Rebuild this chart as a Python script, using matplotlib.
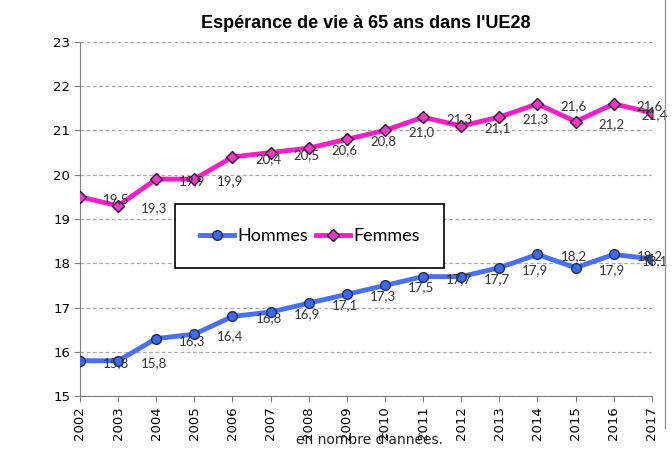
import matplotlib
matplotlib.use("Agg")
import matplotlib.pyplot as plt
from matplotlib.lines import Line2D

# données
annees = list(range(2002, 2018))
hommes = [15.8, 15.8, 16.3, 16.4, 16.8, 16.9, 17.1, 17.3, 17.5, 17.7, 17.7, 17.9, 18.2, 17.9, 18.2, 18.1]
femmes = [19.5, 19.3, 19.9, 19.9, 20.4, 20.5, 20.6, 20.8, 21.0, 21.3, 21.1, 21.3, 21.6, 21.2, 21.6, 21.4]
y_ticks = list(range(15, 24))

titre = "Espérance de vie à 65 ans dans l'UE28"
note = "en nombre d'années."

bleu = "#4A6FEF"
rose = "#F020C8"

fig = plt.figure(figsize=(6.72, 4.65), dpi=100)
ax = fig.add_axes([0.119, 0.148, 0.851, 0.762])

ax.plot(annees, hommes, color=bleu, lw=3.5, marker="o", ms=7,
        mfc="#3D6BE8", mec="#1F2F5A", mew=1.0, zorder=3)
ax.plot(annees, femmes, color=rose, lw=3.5, marker="D", ms=6.5,
        mfc="#E83CC8", mec="#3A0A30", mew=1.0, zorder=3)

# étiquettes de données (décalées à droite comme dans l'original)
for serie in (hommes, femmes):
    for i, (x, v) in enumerate(zip(annees, serie)):
        dx = 26 if i < len(annees) - 1 else 2
        ax.annotate(f"{v:.1f}".replace(".", ","), (x, v), xytext=(dx, -1.5),
                    textcoords="offset points", ha="center", va="center",
                    fontsize=9.5, color="#333333", family="Lato", zorder=4)

ax.set_xlim(2002, 2017)
ax.set_ylim(15, 23)
ax.set_yticks(y_ticks)
ax.set_xticks(annees)
ax.set_xticklabels([str(a) for a in annees], rotation=90, fontsize=9.5,
                   family="Liberation Sans Narrow")
ax.set_yticklabels([str(t) for t in y_ticks], fontsize=9.5, family="Liberation Sans Narrow")
ax.grid(axis="y", ls=(0, (3, 2)), color="#AAAAAA", lw=0.9)
ax.set_axisbelow(True)
for s in ("top", "right"):
    ax.spines[s].set_visible(False)
ax.spines["left"].set_color("#808080")
ax.spines["bottom"].set_color("#808080")
ax.tick_params(axis="both", length=4, color="#808080", pad=3)

ax.set_title(titre, fontsize=13, fontweight="bold", family="Liberation Sans", pad=10)

handles = [
    Line2D([], [], color=bleu, lw=3.5, marker="o", ms=7, mfc="#3D6BE8", mec="#1F2F5A"),
    Line2D([], [], color=rose, lw=3.5, marker="D", ms=6.5, mfc="#E83CC8", mec="#3A0A30"),
]
leg = ax.legend(handles, ["Hommes", "Femmes"], ncol=2, loc="center",
                bbox_to_anchor=(0.402, 0.452), fancybox=False, framealpha=1,
                edgecolor="black", prop={"family": "Lato", "size": 13},
                handlelength=1.9, handletextpad=0.2, columnspacing=0.4,
                borderpad=1.35, borderaxespad=0)
leg.get_frame().set_linewidth(1.2)

fig.text(0.55, 0.054, note, ha="center", va="center", fontsize=10,
         family="Liberation Sans Narrow", color="#222222")

# bordure droite de la zone du graphique
fig.add_artist(Line2D([0.99, 0.99], [0.08, 1.0], transform=fig.transFigure,
                      color="#999999", lw=1))

fig.savefig("out.png", dpi=100)
